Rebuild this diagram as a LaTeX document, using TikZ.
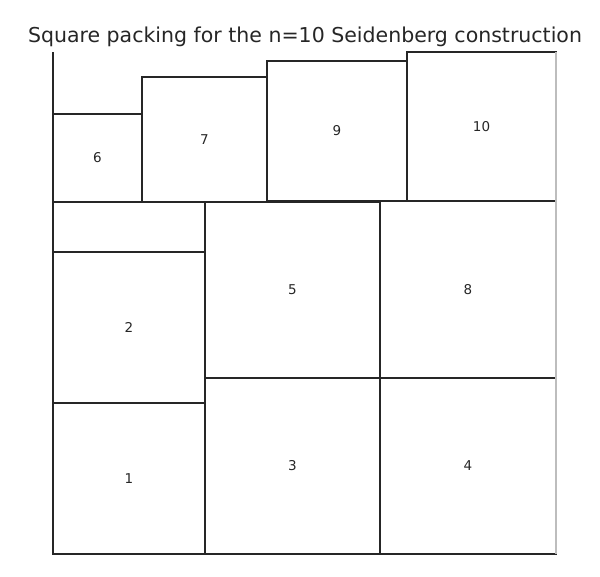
\documentclass[tikz,border=0pt]{standalone}
\usepackage{fontspec}
\setmainfont{DejaVu Sans}
\usetikzlibrary{positioning}

\definecolor{ink}{HTML}{262626}
\definecolor{rim}{HTML}{BDBDBD}
\tikzset{
  sq/.style={draw=ink, line width=1.3pt, inner sep=0pt, outer sep=0pt,
    anchor=north west, text=ink, font=\fontsize{13.5}{15}\selectfont},
  heading/.style={text=ink, font=\fontsize{20.5}{24}\selectfont}
}

\begin{document}
\begin{tikzpicture}[x=1pt, y=-1pt]
        \useasboundingbox (0,0) rectangle (600,576);
        % squares: label / left / top / right / bottom
        \foreach \n/\xa/\ya/\xb/\yb in {1/53/403/205/554, 2/53/252/205/403,
            3/205/378/380/554, 4/380/378/556/554, 5/205/202/380/378,
            8/380/201/556/378, 6/53/114/142/202, 7/142/77/267/202,
            9/267/61/407/201, 10/407/52/556/201}{
          \pgfmathsetmacro\w{\xb-\xa}
          \pgfmathsetmacro\h{\yb-\ya}
          \node[sq, minimum width=\w pt, minimum height=\h pt] (q\n) at (\xa,\ya) {\n};
        }
        \coordinate (top) at (53,52);
        \draw[ink, line width=1.3pt] (top) -- (q1.south west);
        \draw[rim, line width=1.3pt] (q10.north east) -- (q4.south east);
        \node[heading] (title) at (305,37) {Square packing for the n=10 Seidenberg construction};
    \end{tikzpicture}
\end{document}
